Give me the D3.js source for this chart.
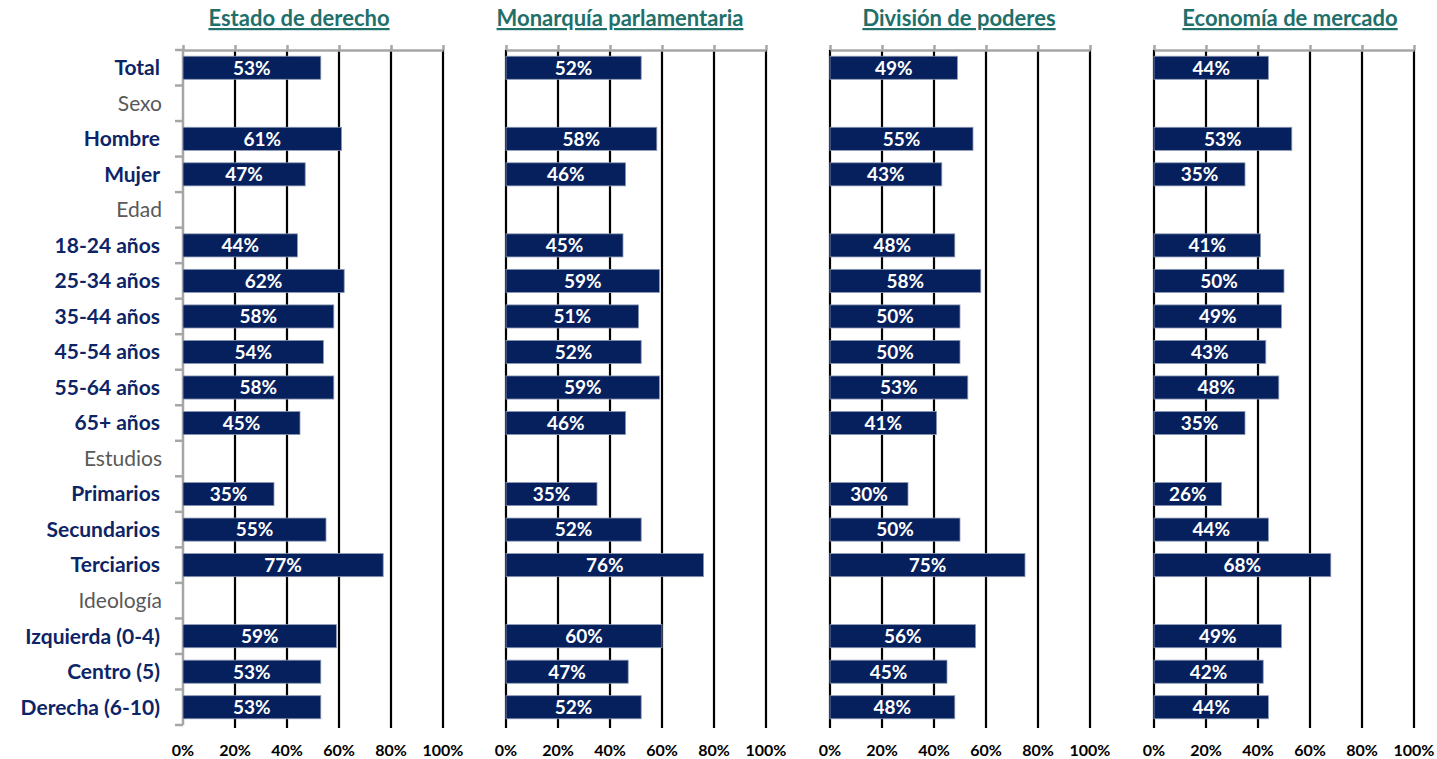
<!DOCTYPE html>
<html>
<head>
<meta charset="utf-8">
<script src="https://cdn.jsdelivr.net/npm/d3@7"></script>
<style>
  body { margin: 0; background: #fff; }
  text { font-family: Lato, "Open Sans", sans-serif; }
</style>
</head>
<body>
<div id="chart"></div>
<script>
// rows of the chart, group headers have no value
var categories = ["Total", "Sexo", "Hombre", "Mujer", "Edad", "18-24 años", "25-34 años",
  "35-44 años", "45-54 años", "55-64 años", "65+ años", "Estudios", "Primarios",
  "Secundarios", "Terciarios", "Ideología", "Izquierda (0-4)", "Centro (5)", "Derecha (6-10)"];
var groupHeaders = ["Sexo", "Edad", "Estudios", "Ideología"];

var titles = ["Estado de derecho", "Monarquía parlamentaria", "División de poderes", "Economía de mercado"];

// values per category (null for headers)
var estado     = [53, null, 61, 47, null, 44, 62, 58, 54, 58, 45, null, 35, 55, 77, null, 59, 53, 53];
var monarquia  = [52, null, 58, 46, null, 45, 59, 51, 52, 59, 46, null, 35, 52, 76, null, 60, 47, 52];
var division   = [49, null, 55, 43, null, 48, 58, 50, 50, 53, 41, null, 30, 50, 75, null, 56, 45, 48];
var economia   = [44, null, 53, 35, null, 41, 50, 49, 43, 48, 35, null, 26, 44, 68, null, 49, 42, 44];
var series = [estado, monarquia, division, economia];

var xTicks = [0, 20, 40, 60, 80, 100];

var width = 1437, height = 759;
var yTop = 50, yBottom = 725;
var panelLeft = [183, 506, 830, 1154];
var panelWidth = 260;
var titleShift = [-14, -16, -1, 6];

var svg = d3.select("#chart").append("svg")
    .attr("width", width)
    .attr("height", height);

var y = d3.scaleBand()
    .domain(categories)
    .range([yTop, yBottom])
    .paddingInner(0.35)
    .paddingOuter(0.175);

// row boundaries for the category ticks
var yRow = d3.scaleBand().domain(categories).range([yTop, yBottom]);

// category labels
svg.selectAll(".cat")
    .data(categories)
    .enter().append("text")
    .attr("x", function(d) { return groupHeaders.indexOf(d) >= 0 ? 162 : 160; })
    .attr("y", function(d) { return yRow(d) + yRow.bandwidth() / 2; })
    .attr("dy", "0.35em")
    .attr("text-anchor", "end")
    .style("font-size", "21px")
    .style("font-weight", function(d) { return groupHeaders.indexOf(d) >= 0 ? "normal" : "bold"; })
    .style("fill", function(d) { return groupHeaders.indexOf(d) >= 0 ? "#595959" : "#0d2466"; })
    .text(function(d) { return d; });

series.forEach(function(values, p) {
  var x = d3.scaleLinear().domain([0, 100]).range([panelLeft[p], panelLeft[p] + panelWidth]);
  var g = svg.append("g");

  // vertical gridlines
  g.selectAll(".grid")
      .data(xTicks.filter(function(t) { return p > 0 || t > 0; }))
      .enter().append("line")
      .attr("x1", function(d) { return x(d); })
      .attr("x2", function(d) { return x(d); })
      .attr("y1", yTop)
      .attr("y2", yBottom + 3)
      .attr("stroke", "#000")
      .attr("stroke-width", 2.2);

  // top axis (gray)
  g.append("g")
      .attr("transform", "translate(0," + yTop + ")")
      .call(d3.axisTop(x).tickValues(xTicks).tickSize(5).tickSizeOuter(0).tickFormat(""))
      .call(function(a) {
        a.select(".domain").attr("stroke", "#a6a6a6").attr("stroke-width", 2.5);
        a.selectAll(".tick line").attr("stroke", "#a6a6a6").attr("stroke-width", 2.5);
      });

  // left axis with category ticks on the first panel
  if (p === 0) {
    var bounds = categories.map(function(c) { return yRow(c); }).concat([yBottom]);
    g.append("line")
        .attr("x1", x(0)).attr("x2", x(0))
        .attr("y1", yTop).attr("y2", yBottom)
        .attr("stroke", "#a6a6a6").attr("stroke-width", 2.5);
    g.selectAll(".ytick")
        .data(bounds)
        .enter().append("line")
        .attr("x1", x(0) - 8).attr("x2", x(0))
        .attr("y1", function(d) { return d; })
        .attr("y2", function(d) { return d; })
        .attr("stroke", "#a6a6a6").attr("stroke-width", 2.5);
  }

  var rows = categories.map(function(c, i) { return {cat: c, v: values[i]}; })
      .filter(function(d) { return d.v !== null; });

  g.selectAll(".bar")
      .data(rows)
      .enter().append("rect")
      .attr("x", x(0))
      .attr("y", function(d) { return y(d.cat); })
      .attr("width", function(d) { return x(d.v) - x(0); })
      .attr("height", y.bandwidth())
      .attr("fill", "#06205e")
      .attr("stroke", "#8d99b3")
      .attr("stroke-width", 0.8);

  g.selectAll(".lbl")
      .data(rows)
      .enter().append("text")
      .attr("x", function(d) { return (x(0) + x(d.v)) / 2; })
      .attr("y", function(d) { return y(d.cat) + y.bandwidth() / 2; })
      .attr("dy", "0.36em")
      .attr("text-anchor", "middle")
      .style("font-size", "19px")
      .style("font-weight", "bold")
      .style("fill", "#fff")
      .text(function(d) { return d.v + "%"; });

  // bottom tick labels
  g.selectAll(".xlbl")
      .data(xTicks)
      .enter().append("text")
      .attr("x", function(d) { return x(d); })
      .attr("y", 750)
      .attr("dy", "0.35em")
      .attr("text-anchor", "middle")
      .style("font-size", "16px")
      .style("font-weight", "bold")
      .style("fill", "#000")
      .text(function(d) { return d + "%"; });

  // panel title
  g.append("text")
      .attr("x", x(50) + titleShift[p])
      .attr("y", 26)
      .attr("text-anchor", "middle")
      .style("font-size", "22px")
      .style("font-weight", "bold")
      .style("fill", "#1f6f6a")
      .style("text-decoration", "underline")
      .text(titles[p]);
});
</script>
</body>
</html>
